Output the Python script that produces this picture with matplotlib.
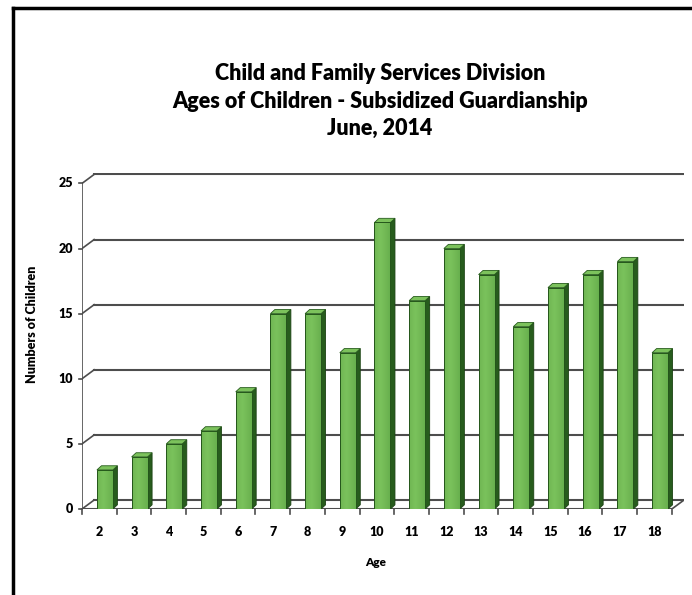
import matplotlib.pyplot as plt, numpy as np
from matplotlib.lines import Line2D
from matplotlib.patches import Polygon, Rectangle

ages = ['2', '3', '4', '5', '6', '7', '8', '9', '10', '11', '12', '13', '14', '15', '16', '17', '18']
children = [3, 4, 5, 6, 9, 15, 15, 12, 22, 16, 20, 18, 14, 17, 18, 19, 12]
yticks = [0, 5, 10, 15, 20, 25]

title = 'Child and Family Services Division\nAges of Children - Subsidized Guardianship\nJune, 2014'

plt.rcParams['font.family'] = ['Lato', 'DejaVu Sans']

# pseudo-3d offsets (data units)
DX, DY = 0.35, 0.69     # back wall
bx, by = 0.13, 0.32     # bar depth
off, w = 0.16, 0.46     # bar front offset/width

fig = plt.figure(figsize=(6.92, 5.95), dpi=100)
W, H = 692, 595
n = len(ages)
ax = fig.add_axes([82 / W, 86 / H, 602 / W, 336 / H])
ax.axis('off')

grid = '#4d4d4d'
for y in yticks:
    ax.plot([-0.5 + DX, n - 0.5 + DX], [y + DY, y + DY], color=grid, lw=1.5, zorder=1)
    ax.plot([-0.5, -0.5 + DX], [y, y + DY], color=grid, lw=1.2, zorder=1)
    ax.plot([-0.5, -0.5 - 0.1], [y, y], color=grid, lw=1.2, clip_on=False)
    ax.text(-0.75, y, str(y), ha='right', va='center', fontsize=9, fontweight='heavy')
ax.plot([-0.5, -0.5], [0, yticks[-1]], color=grid, lw=1.2, zorder=1)
ax.plot([-0.5, n - 0.5], [0, 0], color=grid, lw=1.5, zorder=1)
ax.plot([n - 0.5, n - 0.5 + DX], [0, DY], color=grid, lw=1.2, zorder=1)
for b in np.arange(n + 1) - 0.5:
    ax.plot([b, b], [0, -0.35], color=grid, lw=1.2, clip_on=False)

# gradient for bar fronts
grad = np.linspace(0, 1, 64)
shade = 1 - 0.6 * np.abs(grad - 0.4) ** 1.1
base = np.array([0.27, 0.55, 0.20])
light = np.array([0.48, 0.76, 0.36])
img = np.array([[base + (light - base) * s for s in shade]])

for i, v in enumerate(children):
    x0 = i + off - w / 2
    x1 = x0 + w
    # side face
    ax.add_patch(Polygon([[x1, 0], [x1 + bx, by], [x1 + bx, v + by], [x1, v]],
                         closed=True, facecolor='#275c1d', edgecolor='#1b4213', lw=0.6, zorder=3))
    # top face
    ax.add_patch(Polygon([[x0, v], [x0 + bx, v + by], [x1 + bx, v + by], [x1, v]],
                         closed=True, facecolor='#7cc25c', edgecolor='#275c1d', lw=0.6, zorder=3))
    # front face
    rect = Rectangle((x0, 0), w, v, facecolor='none', edgecolor='#24561b', lw=0.7, zorder=5)
    ax.add_patch(rect)
    im = ax.imshow(img, extent=[x0, x1, 0, v], aspect='auto', zorder=4, interpolation='bilinear')
    im.set_clip_path(rect)
    ax.text(i, -1.3, ages[i], ha='center', va='top', fontsize=9, fontweight='heavy')

ax.set_xlim(-0.5, n - 0.5 + DX)
ax.set_ylim(0, 25.8)

fig.text(380 / W, 1 - 101 / H, title, ha='center', va='center', fontsize=15.5,
         fontweight='heavy', linespacing=1.4)
fig.text(32 / W, 1 - 324 / H, 'Numbers of Children', rotation=90, ha='center', va='center',
         fontsize=9, fontweight='heavy')
fig.text(376 / W, 1 - 562 / H, 'Age', ha='center', va='center', fontsize=8.5, fontweight='heavy')

# scanned frame
fig.add_artist(Line2D([13 / W, 13 / W], [0, 1 - 8 / H], color='black', lw=2.5))
fig.add_artist(Line2D([13 / W, 1], [1 - 8 / H, 1 - 8 / H], color='black', lw=2.5))

fig.savefig('out.png', dpi=100)
